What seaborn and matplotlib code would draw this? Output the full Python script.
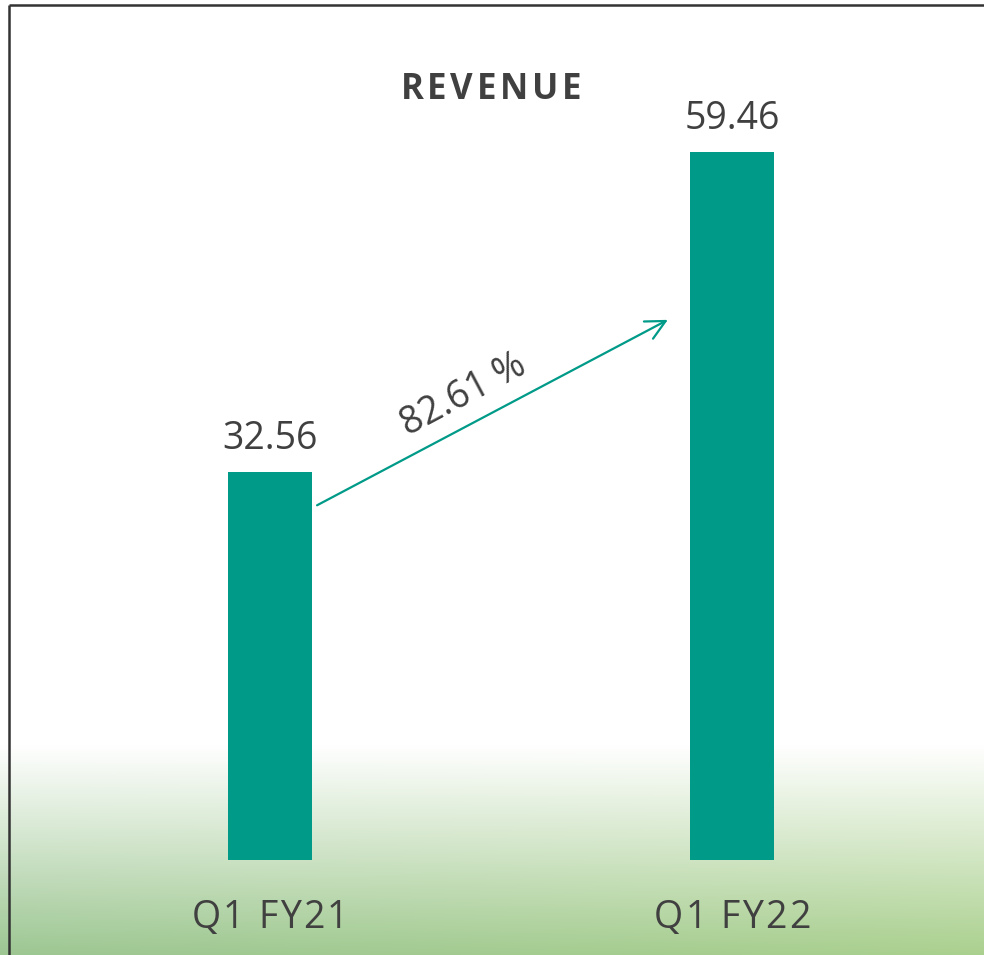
import numpy as np
import matplotlib
matplotlib.use("Agg")
import matplotlib.pyplot as plt
from matplotlib.font_manager import FontProperties
import seaborn as sns

# data
periods = ["Q1 FY21", "Q1 FY22"]
revenue = [32.56, 59.46]
growth_label = "82.61 %"
title = "REVENUE"

BAR_COLOR = "#009A88"
TEXT_COLOR = "#404040"
W, H = 984, 955

sns.set_theme(style="white")
plt.rcParams["font.family"] = ["Open Sans", "DejaVu Sans"]

fig = plt.figure(figsize=(W / 100, H / 100), dpi=100)
fig.patch.set_facecolor("white")
renderer = fig.canvas.get_renderer()


def spaced_text(cx, baseline, s, tracking, size, weight="normal"):
    """Draw s centred on cx (pixels) with extra space between letters."""
    fp = FontProperties(family=["Open Sans", "DejaVu Sans"], size=size, weight=weight)
    widths = [renderer.get_text_width_height_descent(s[:i], fp, ismath=False)[0] if i else 0
              for i in range(len(s) + 1)]
    total = widths[-1] + tracking * (len(s) - 1)
    x = cx - total / 2
    for i, ch in enumerate(s):
        if ch == " ":
            continue
        fig.text((x + widths[i] + tracking * i) / W, 1 - baseline / H, ch,
                 ha="left", va="baseline", fontproperties=fp, color=TEXT_COLOR)


# background: green gradient at the bottom + frame lines
bg = fig.add_axes([0, 0, 1, 1])
bg.set_axis_off()
ypx = np.arange(H)[:, None]
t = np.clip((ypx - 745) / (H - 745), 0, 1)
xs = np.linspace(0, 1, 200)[None, :]
left = np.array([156, 198, 146]) / 255
right = np.array([170, 208, 142]) / 255
col = left[None, None, :] * (1 - xs[..., None]) + right[None, None, :] * xs[..., None]
col = np.broadcast_to(col, (H, 200, 3))
img = (1 - t[..., None]) * 1.0 + t[..., None] * col
bg.imshow(img, extent=[0, 1, 0, 1], aspect="auto", interpolation="bilinear", zorder=0)
bg.set_xlim(0, 1)
bg.set_ylim(0, 1)
bg.plot([9 / W, 1], [1 - 5 / H, 1 - 5 / H], color="#333333", lw=1.8, solid_capstyle="butt")
bg.plot([9 / W, 9 / W], [0, 1 - 5 / H], color="#333333", lw=1.8, solid_capstyle="butt")

# main chart
ax = fig.add_axes([0, 95 / H, 1, 1 - 95 / H])
ax.set_facecolor("none")
bar_w = 0.182
sns.barplot(x=periods, y=revenue, color=BAR_COLOR, saturation=1, width=bar_w,
            linewidth=0, ax=ax)
ax.set_xlim(-0.584, 1.545)
ax.set_ylim(0, 72.23)
for s in ax.spines.values():
    s.set_visible(False)
ax.set_yticks([])
ax.set_xticklabels([])
ax.tick_params(axis="x", length=0)
ax.set_xlabel("")
ax.set_ylabel("")

ax.bar_label(ax.containers[0], labels=[f"{v:.2f}" for v in revenue],
             padding=10, fontsize=27, color=TEXT_COLOR)

# category labels with letter spacing, under each bar
for i, label in enumerate(periods):
    cx = ax.transData.transform((i, 0))[0]
    spaced_text(cx, 928, label, 2.2, 27)

# growth arrow between the bars
x0 = 0 + bar_w / 2 + 0.011
x1 = 1 - bar_w / 2 - 0.048
y0 = revenue[0] * 0.915
y1 = revenue[1] * 0.763
ax.annotate("", xy=(x1, y1), xytext=(x0, y0),
            arrowprops=dict(arrowstyle="->,head_length=0.7,head_width=0.35",
                            mutation_scale=20, color=BAR_COLOR, lw=1.6,
                            shrinkA=0, shrinkB=0))
ax.text(0.418, 39.05, growth_label, rotation=28, rotation_mode="anchor",
        ha="center", va="center", fontsize=27, color=TEXT_COLOR)

spaced_text(491, 99, title, 3.6, 25, weight="bold")

fig.savefig("out.png", dpi=100)
plt.close(fig)
